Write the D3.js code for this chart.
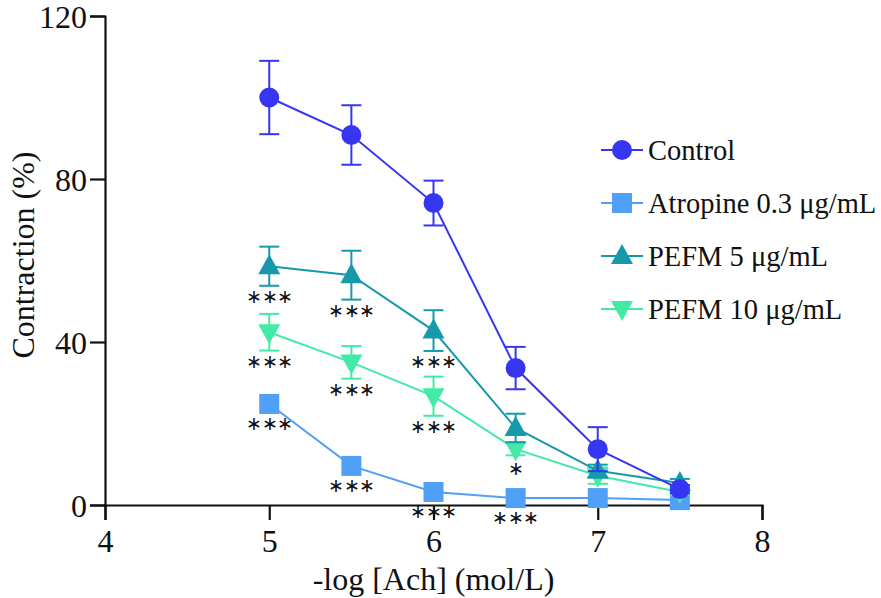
<!DOCTYPE html>
<html>
<head>
<meta charset="utf-8">
<script src="https://cdn.jsdelivr.net/npm/d3@7"></script>
<style>
  body { margin: 0; background: #fff; }
</style>
</head>
<body>
<div id="chart"></div>
<script>
// doses, -log [Ach]
const doses = [5, 5.5, 6, 6.5, 7, 7.5];

const controlMean = [100, 90.8, 74.1, 33.6, 13.7, 3.9];
const controlErr = [9, 7.3, 5.5, 5.2, 5.4, 1];
const atropineMean = [24.8, 9.6, 3.2, 1.7, 1.7, 1.2];
const atropineErr = [0, 0, 0, 0, 0, 0];
const pefm5Mean = [58.6, 56.4, 42.8, 18.9, 8.4, 5.4];
const pefm5Err = [4.8, 6, 5, 3.5, 1.5, 1];
const pefm10Mean = [42.4, 35, 26.7, 13.7, 7.2, 3.2];
const pefm10Err = [4.5, 4, 4.8, 1.5, 2, 0.8];

const atropineSig = ["***", "***", "***", "***", "", ""];
const pefm5Sig = ["***", "***", "***", "", "", ""];
const pefm10Sig = ["***", "***", "***", "*", "", ""];
const controlSig = ["", "", "", "", "", ""];

const xTicks = [4, 5, 6, 7, 8];
const yTicks = [0, 40, 80, 120];

const series = [
    { name: "Atropine 0.3 μg/mL", mean: atropineMean, err: atropineErr, sig: atropineSig, color: "#4fa0f6", shape: "square" },
    { name: "PEFM 10 μg/mL", mean: pefm10Mean, err: pefm10Err, sig: pefm10Sig, color: "#42eaa6", shape: "down" },
    { name: "PEFM 5 μg/mL", mean: pefm5Mean, err: pefm5Err, sig: pefm5Sig, color: "#1699aa", shape: "up" },
    { name: "Control", mean: controlMean, err: controlErr, sig: controlSig, color: "#3636f2", shape: "circle" }
];
const legendOrder = ["Control", "Atropine 0.3 μg/mL", "PEFM 5 μg/mL", "PEFM 10 μg/mL"];

const FONT = "'Liberation Serif', 'Times New Roman', Times, serif";
const W = 881, H = 598;
const x = d3.scaleLinear().domain([4, 8]).range([105, 762]);
const y = d3.scaleLinear().domain([0, 120]).range([505, 16]);

const svg = d3.select("#chart").append("svg")
    .attr("width", W)
    .attr("height", H)
    .style("font-family", FONT);

function drawMarker(g, shape, color) {
    if (shape === "circle") {
        g.append("circle").attr("r", 10).attr("fill", color);
    } else if (shape === "square") {
        g.append("rect").attr("x", -10).attr("y", -10).attr("width", 20).attr("height", 20).attr("fill", color);
    } else if (shape === "up") {
        g.append("path").attr("d", "M0,-12L11,8L-11,8Z").attr("fill", color);
    } else {
        g.append("path").attr("d", "M0,12L11,-8L-11,-8Z").attr("fill", color);
    }
}

function label(sel, size) {
    return sel.style("font-family", FONT).style("font-size", size + "px").attr("fill", "#111");
}

// axes
const xAxis = svg.append("g")
    .attr("transform", `translate(0,${y(0)})`)
    .call(d3.axisBottom(x).tickValues(xTicks).tickSize(15).tickPadding(9).tickFormat(d3.format("d")));
const yAxis = svg.append("g")
    .attr("transform", `translate(${x(4)},0)`)
    .call(d3.axisLeft(y).tickValues(yTicks).tickSize(15).tickPadding(3).tickFormat(d3.format("d")));
[xAxis, yAxis].forEach(a => {
    a.attr("font-family", null).attr("font-size", null);
    a.select(".domain").attr("stroke", "#111").attr("stroke-width", 2.2);
    a.selectAll(".tick line").attr("stroke", "#111").attr("stroke-width", 2.2);
    label(a.selectAll(".tick text"), 32);
});
xAxis.selectAll(".tick text").attr("dy", "0.71em");
yAxis.selectAll(".tick text").attr("dy", "0.36em");

// series
const line = d3.line().x(d => x(d[0])).y(d => y(d[1]));
series.forEach(s => {
    const pts = doses.map((d, i) => [d, s.mean[i], s.err[i], s.sig[i]]);
    const g = svg.append("g");
    g.append("path")
        .attr("d", line(pts))
        .attr("fill", "none")
        .attr("stroke", s.color)
        .attr("stroke-width", 2);
    pts.forEach(p => {
        if (p[2] > 0) {
            const cx = x(p[0]);
            const y1 = y(p[1] + p[2]), y2 = y(p[1] - p[2]);
            g.append("line").attr("x1", cx).attr("x2", cx).attr("y1", y1).attr("y2", y2)
                .attr("stroke", s.color).attr("stroke-width", 2);
            [y1, y2].forEach(yy => g.append("line")
                .attr("x1", cx - 10).attr("x2", cx + 10).attr("y1", yy).attr("y2", yy)
                .attr("stroke", s.color).attr("stroke-width", 2));
        }
    });
    pts.forEach(p => {
        const m = g.append("g").attr("transform", `translate(${x(p[0])},${y(p[1])})`);
        drawMarker(m, s.shape, s.color);
    });
    // significance stars under each point
    pts.forEach(p => {
        if (!p[3]) return;
        const below = Math.max(y(p[1] - p[2]), y(p[1]) + 9);
        label(svg.append("text"), 19)
            .attr("x", x(p[0]))
            .attr("y", below + 11)
            .attr("dy", "0.32em")
            .attr("text-anchor", "middle")
            .attr("letter-spacing", -0.5)
            .text(p[3].replace(/\*/g, "\u2217"));
    });
});

// legend
const legend = svg.append("g").attr("transform", "translate(601,150)");
legendOrder.forEach((name, i) => {
    const s = series.find(d => d.name === name);
    const row = legend.append("g").attr("transform", `translate(0,${i * 53})`);
    row.append("line").attr("x1", 0).attr("x2", 42).attr("y1", 0).attr("y2", 0)
        .attr("stroke", s.color).attr("stroke-width", 2);
    drawMarker(row.append("g").attr("transform", "translate(21,0)"), s.shape, s.color);
    label(row.append("text"), 28.5)
        .attr("x", 47)
        .attr("y", 0)
        .attr("dy", "0.34em")
        .text(name);
});

// axis titles
label(svg.append("text"), 32)
    .attr("x", x(6))
    .attr("y", 590)
    .attr("text-anchor", "middle")
    .text("-log [Ach] (mol/L)");
label(svg.append("text"), 32)
    .attr("transform", "translate(34,255) rotate(-90)")
    .attr("text-anchor", "middle")
    .text("Contraction (%)");
</script>
</body>
</html>
